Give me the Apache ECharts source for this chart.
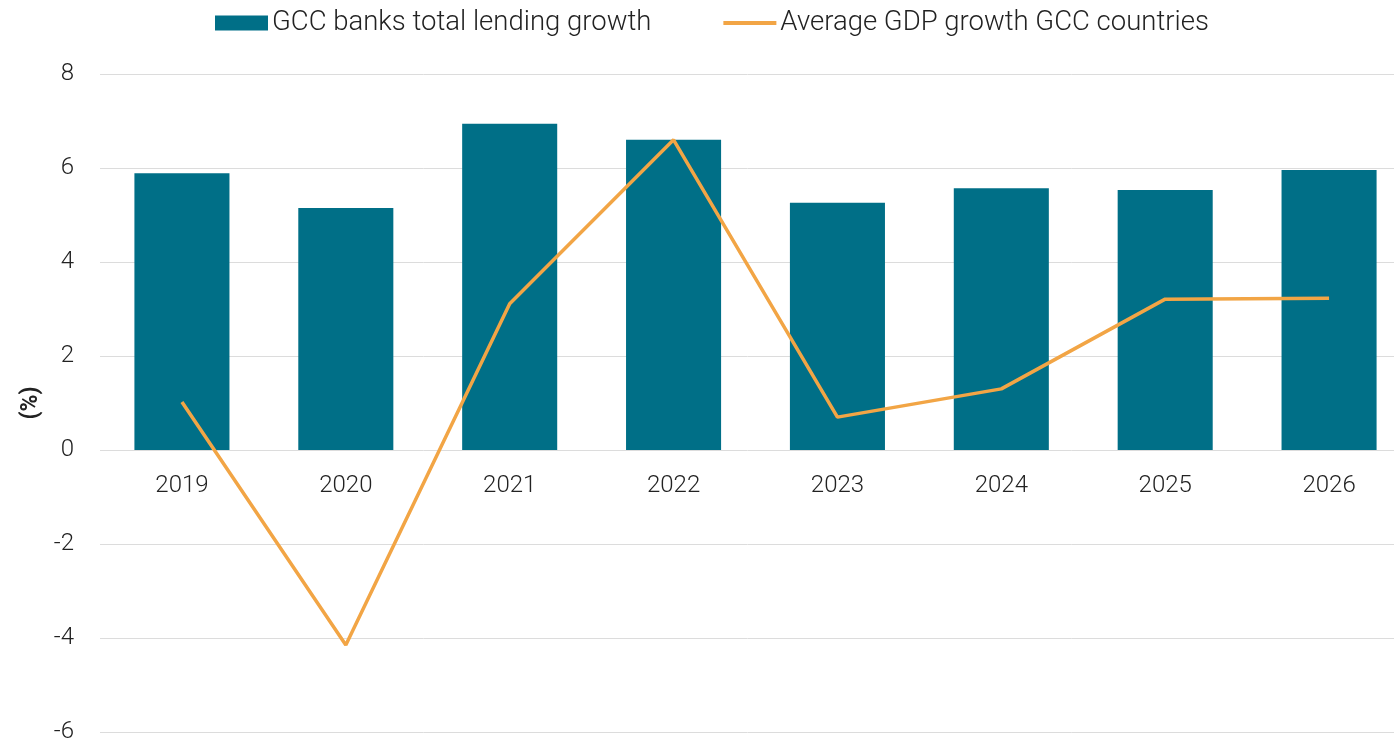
<!DOCTYPE html>
<html>
<head>
<meta charset="utf-8">
<script src="https://cdn.jsdelivr.net/npm/echarts@6/dist/echarts.min.js"></script>
<style>
  html, body { margin: 0; padding: 0; background: #fff; }
  #chart { width: 1394px; height: 741px; }
</style>
</head>
<body>
<div id="chart"></div>
<script>
// Years on the category axis
const years = ['2019', '2020', '2021', '2022', '2023', '2024', '2025', '2026'];
// GCC banks total lending growth (%)
const lendingGrowth = [5.89, 5.15, 6.94, 6.60, 5.26, 5.57, 5.53, 5.96];
// Average GDP growth across GCC countries (%)
const gdpGrowth = [1.02, -4.15, 3.11, 6.60, 0.70, 1.30, 3.21, 3.23];
// Value axis ticks
const yTicks = { min: -6, max: 8, interval: 2 };

const FONT = 'Roboto';
const TEXT = '#222222';

const GRID_TOP = 74;
const GRID_BOTTOM = 9;
const CHART_H = 741;

const chart = echarts.init(document.getElementById('chart'));

// Place the category axis on the zero line of the value axis
const plotH = CHART_H - GRID_TOP - GRID_BOTTOM;
const zeroFromBottom = plotH * (0 - yTicks.min) / (yTicks.max - yTicks.min);

chart.setOption({
  animation: false,
  textStyle: { fontFamily: FONT },
  legend: {
    left: 210,
    top: 4,
    itemWidth: 53,
    itemHeight: 15,
    itemGap: 70,
    textStyle: { fontFamily: FONT, fontSize: 27.5, fontWeight: 300, color: TEXT, padding: [0, 0, 0, -1] },
    data: [
      { name: 'GCC banks total lending growth', icon: 'rect' },
      // line-only key: hide the marker that line series draw in the legend
      { name: 'Average GDP growth GCC countries', itemStyle: { opacity: 0 }, lineStyle: { width: 4 } }
    ]
  },
  grid: { left: 100, right: -17, top: GRID_TOP, bottom: GRID_BOTTOM, outerBoundsMode: 'none' },
  xAxis: {
    type: 'category',
    data: years,
    offset: -zeroFromBottom,
    axisLine: { show: false },
    axisTick: { show: false },
    axisLabel: { fontFamily: FONT, fontSize: 24, fontWeight: 300, color: TEXT, margin: 24 }
  },
  yAxis: {
    type: 'value',
    min: yTicks.min,
    max: yTicks.max,
    interval: yTicks.interval,
    name: '(%)',
    nameLocation: 'middle',
    nameGap: 56,
    nameRotate: 90,
    nameTextStyle: { fontFamily: FONT, fontSize: 23, fontWeight: 'bold', color: TEXT },
    axisLine: { show: false },
    axisTick: { show: false },
    axisLabel: { fontFamily: FONT, fontSize: 24, fontWeight: 300, color: TEXT, margin: 26 },
    splitLine: { lineStyle: { color: '#dcdcdc', width: 1 } }
  },
  series: [
    {
      name: 'GCC banks total lending growth',
      type: 'bar',
      data: lendingGrowth,
      barCategoryGap: '42%',
      itemStyle: { color: '#006F87' }
    },
    {
      name: 'Average GDP growth GCC countries',
      type: 'line',
      data: gdpGrowth,
      symbol: 'none',
      lineStyle: { color: '#F2A545', width: 3.5 },
      itemStyle: { color: '#F2A545' }
    }
  ]
});
</script>
</body>
</html>
